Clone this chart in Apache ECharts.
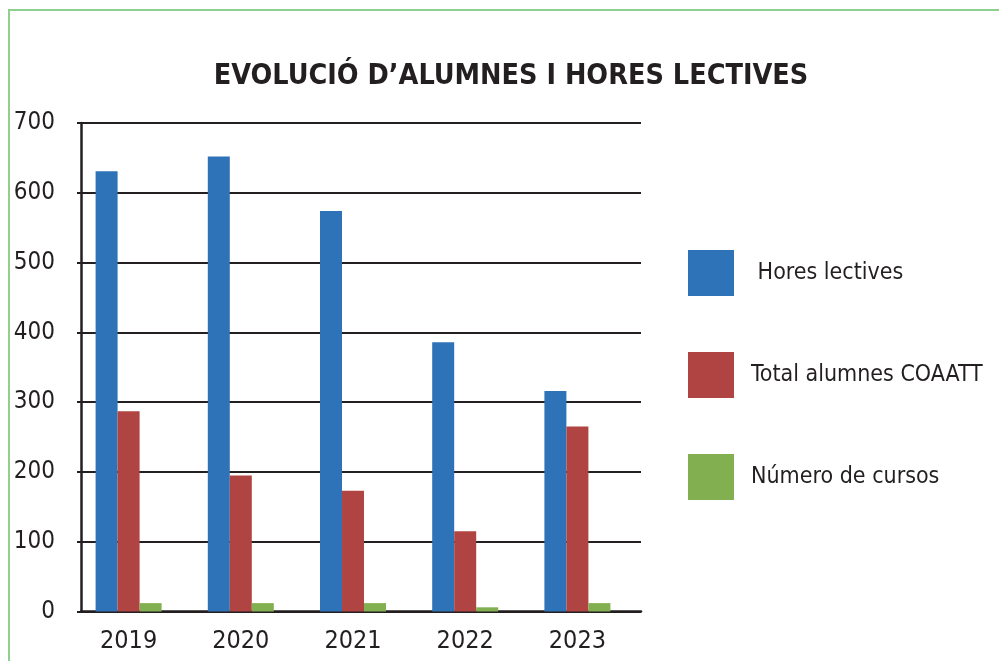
<!DOCTYPE html>
<html>
<head>
<meta charset="utf-8">
<script src="https://cdn.jsdelivr.net/npm/echarts@6/dist/echarts.min.js"></script>
<style>
  html, body { margin: 0; padding: 0; background: #fff; }
  #chart { width: 999px; height: 661px; }
</style>
</head>
<body>
<div id="chart"></div>
<script>
var years = ['2019', '2020', '2021', '2022', '2023']
var horesLectives = [631, 652, 574, 386, 316]
var totalAlumnes = [287, 195, 173, 115, 265]
var numeroCursos = [12, 12, 12, 6, 12]
var yTicks = { min: 0, max: 700, interval: 100 }

var narrow = '"DejaVu Sans Condensed", "Liberation Sans Narrow", sans-serif'
var ink = '#231f20'

var myChart = echarts.init(document.getElementById('chart'))
var option = {
  backgroundColor: '#ffffff',
  animation: false,
  title: {
    text: 'EVOLUCIÓ D’ALUMNES I HORES LECTIVES',
    left: 506,
    top: 57,
    textAlign: 'center',
    textStyle: { fontFamily: narrow, fontWeight: 'bold', fontSize: 28.5, color: ink }
  },
  graphic: [
    {
      // green frame round the chart
      type: 'polyline',
      shape: { points: [[9, 661], [9, 10], [999, 10]] },
      style: { stroke: '#8fd08f', lineWidth: 2, fill: null }
    }
  ],
  legend: {
    orient: 'vertical',
    left: 688,
    top: 250,
    padding: 0,
    icon: 'rect',
    itemWidth: 46,
    itemHeight: 46,
    itemGap: 56,
    selectedMode: false,
    formatter: function (name) {
      return name === 'Hores lectives' ? ' ' + name : name
    },
    textStyle: { fontFamily: narrow, fontSize: 23, color: ink, padding: [0, 0, 0, 12] }
  },
  grid: [
    // axes and grid lines
    { left: 81, top: 123, width: 560, height: 488.5 },
    // bars, shifted a bit left as in the original
    { left: 72.5, top: 123, width: 561, height: 488.5 }
  ],
  xAxis: [
    {
      type: 'category', gridIndex: 0, data: years,
      axisLine: { show: true, lineStyle: { color: ink, width: 2.5 } },
      axisTick: { show: false },
      axisLabel: { show: false }
    },
    {
      type: 'category', gridIndex: 1, data: years,
      axisLine: { show: false },
      axisTick: { show: false },
      axisLabel: { fontFamily: narrow, fontSize: 25, color: ink, margin: 17 }
    }
  ],
  yAxis: [
    {
      type: 'value', gridIndex: 0, min: yTicks.min, max: yTicks.max, interval: yTicks.interval,
      axisLine: { show: true, lineStyle: { color: ink, width: 2.5 } },
      axisTick: { show: true, length: 4, lineStyle: { color: ink, width: 2 } },
      splitLine: { show: true, lineStyle: { color: ink, width: 2 } },
      axisLabel: { fontFamily: narrow, fontSize: 24, color: ink, margin: 26 }
    },
    {
      type: 'value', gridIndex: 1, min: yTicks.min, max: yTicks.max, interval: yTicks.interval,
      show: false
    }
  ],
  series: [
    {
      name: 'Hores lectives', type: 'bar', xAxisIndex: 1, yAxisIndex: 1,
      barWidth: 22, barGap: '0%',
      itemStyle: { color: '#2e73b7' },
      data: horesLectives
    },
    {
      name: 'Total alumnes COAATT', type: 'bar', xAxisIndex: 1, yAxisIndex: 1,
      barWidth: 22, barGap: '0%',
      itemStyle: { color: '#b04442' },
      data: totalAlumnes
    },
    {
      name: 'Número de cursos', type: 'bar', xAxisIndex: 1, yAxisIndex: 1,
      barWidth: 22, barGap: '0%',
      itemStyle: { color: '#82af50' },
      data: numeroCursos
    }
  ]
}
myChart.setOption(option)
</script>
</body>
</html>
